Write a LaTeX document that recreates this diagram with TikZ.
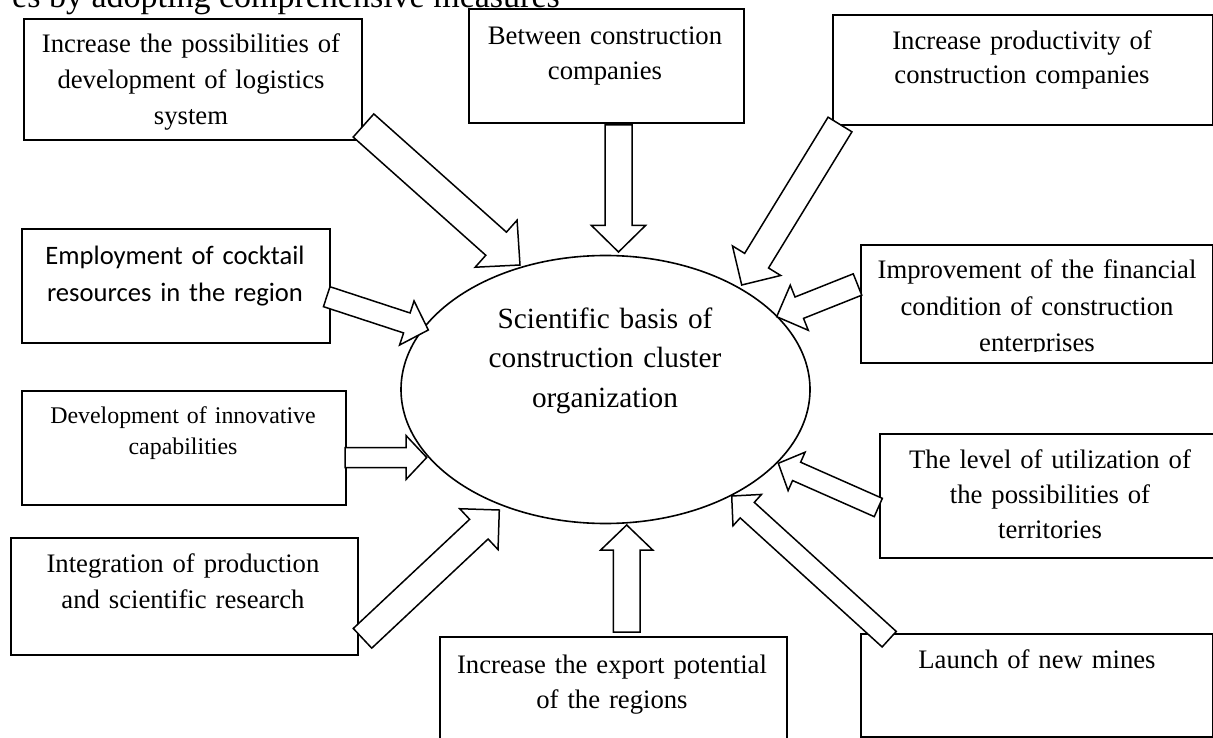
\documentclass[tikz,border=0pt]{standalone}
\usepackage{fontspec}
\setmainfont{Liberation Serif}
\newfontfamily\calibrifont{Carlito}
\usetikzlibrary{calc,shapes.geometric}
\newcommand\blockarrow[5]{%
  \path ($(#2)!#5!(#1)$) coordinate (ab);
  \draw[barrow] ($(#1)!#3!90:(#2)$) -- ($(ab)!#3!90:(#2)$) -- ($(ab)!#4!90:(#2)$) -- (#2)
     -- ($(ab)!#4!-90:(#2)$) -- ($(ab)!#3!-90:(#2)$) -- ($(#1)!#3!-90:(#2)$) -- cycle;}
\begin{document}
\begin{tikzpicture}[x=1pt,y=-1pt,
  box/.style={draw, line width=1.8pt, inner sep=0pt, anchor=north west},
  txt/.style={align=center, inner sep=0pt, anchor=base, text width=340pt,
    font=\fontsize{26.7}{36}\selectfont},
  barrow/.style={draw, fill=white, line width=1.5pt},
]
\useasboundingbox (0,0) rectangle (1213,738);
\clip (0,0) rectangle (1213,738);

% cropped heading line
\node[inner sep=0pt, anchor=base east, font=\fontsize{34}{40}\selectfont] (head) at (560,8)
  {es by adopting comprehensive measures};

% boxes
\node[box, minimum width=338pt, minimum height=121pt] (b1) at (23,18) {};
\node[box, minimum width=275pt, minimum height=114pt] (b2) at (468,8) {};
\node[box, minimum width=380pt, minimum height=110pt] (b3) at (832,14) {};
\node[box, minimum width=352pt, minimum height=118pt] (b4) at (860,244) {};
\node[box, minimum width=308pt, minimum height=114pt] (b5) at (21,228) {};
\node[box, minimum width=324pt, minimum height=114pt] (b6) at (21,390) {};
\node[box, minimum width=347pt, minimum height=117pt] (b7) at (10,537) {};
\node[box, minimum width=347pt, minimum height=130pt] (b8) at (439,636) {};
\node[box, minimum width=335pt, minimum height=124pt] (b9) at (879,433) {};
\node[box, minimum width=352pt, minimum height=103pt] (b10) at (860,633) {};

% ellipse
\node[draw, ellipse, line width=1.6pt, minimum width=409pt, minimum height=268pt, inner sep=0pt] (ell) at (605.5,389.5) {};

% texts
\node[txt] (t1) at (191,53) {Increase the possibilities of\\development of logistics\\system};
\node[txt, font=\fontsize{26.7}{35}\selectfont] (t2) at (605,45) {Between construction\\companies};
\node[txt, font=\fontsize{26.7}{34}\selectfont] (t3) at (1022,50) {Increase productivity of\\construction companies};
\begin{scope}
  \clip (b4.north west) rectangle (1213,351.5);
  \node[txt, font=\fontsize{26.7}{36.5}\selectfont] (t4) at (1037,279) {Improvement of the financial\\condition of construction\\enterprises};
\end{scope}
\node[txt, font=\calibrifont\fontsize{26.6}{37}\selectfont] (t5) at (175,265) {Employment of cocktail\\resources in the region};
\node[txt, font=\fontsize{23.9}{31.5}\selectfont] (t6) at (183,423) {Development of innovative\\capabilities};
\node[txt] (t7) at (183,572) {Integration of production\\and scientific research};
\node[txt, font=\fontsize{26.7}{35}\selectfont] (t8) at (612,673) {Increase the export potential\\of the regions};
\node[txt, font=\fontsize{26.7}{35}\selectfont] (t9) at (1050,468) {The level of utilization of\\the possibilities of\\territories};
\node[txt] (t10) at (1037,668) {Launch of new mines};
\node[txt, font=\fontsize{29.3}{39.5}\selectfont] (te) at (605,328) {Scientific basis of\\construction cluster\\organization};

% arrow end points
\coordinate (aT) at (363.5,125.5); \coordinate (aP) at (520,265);
\coordinate (bT) at (618.5,125);   \coordinate (bP) at (618.5,252);
\coordinate (cT) at (840,124.5);   \coordinate (cP) at (741.7,285);
\coordinate (dT) at (857.5,284.5); \coordinate (dP) at (776.7,316.7);
\coordinate (eT) at (326.7,296.7); \coordinate (eP) at (428.3,330);
\coordinate (fT) at (345,457.5);   \coordinate (fP) at (426.7,457.5);
\coordinate (gT) at (362.5,638.3); \coordinate (gP) at (499.3,510);
\coordinate (hT) at (626.7,632);   \coordinate (hP) at (626.7,525);
\coordinate (iT) at (878.3,507.5); \coordinate (iP) at (778.3,463.3);
\coordinate (jT) at (889.2,639.2); \coordinate (jP) at (731.7,496);

\blockarrow{aT}{aP}{15.5pt}{31.5pt}{32pt}
\blockarrow{bT}{bP}{13.5pt}{27pt}{26.5pt}
\blockarrow{cT}{cP}{14pt}{28.3pt}{28.5pt}
\blockarrow{dT}{dP}{11.5pt}{24.3pt}{24.3pt}
\blockarrow{eT}{eP}{10.5pt}{23.2pt}{22.6pt}
\blockarrow{fT}{fP}{10pt}{22pt}{20.7pt}
\blockarrow{gT}{gP}{13.5pt}{28pt}{28pt}
\blockarrow{hT}{hP}{13.3pt}{26pt}{25pt}
\blockarrow{iT}{iP}{10pt}{21pt}{20pt}
\blockarrow{jT}{jP}{10.5pt}{21.2pt}{21pt}
\end{tikzpicture}
\end{document}
